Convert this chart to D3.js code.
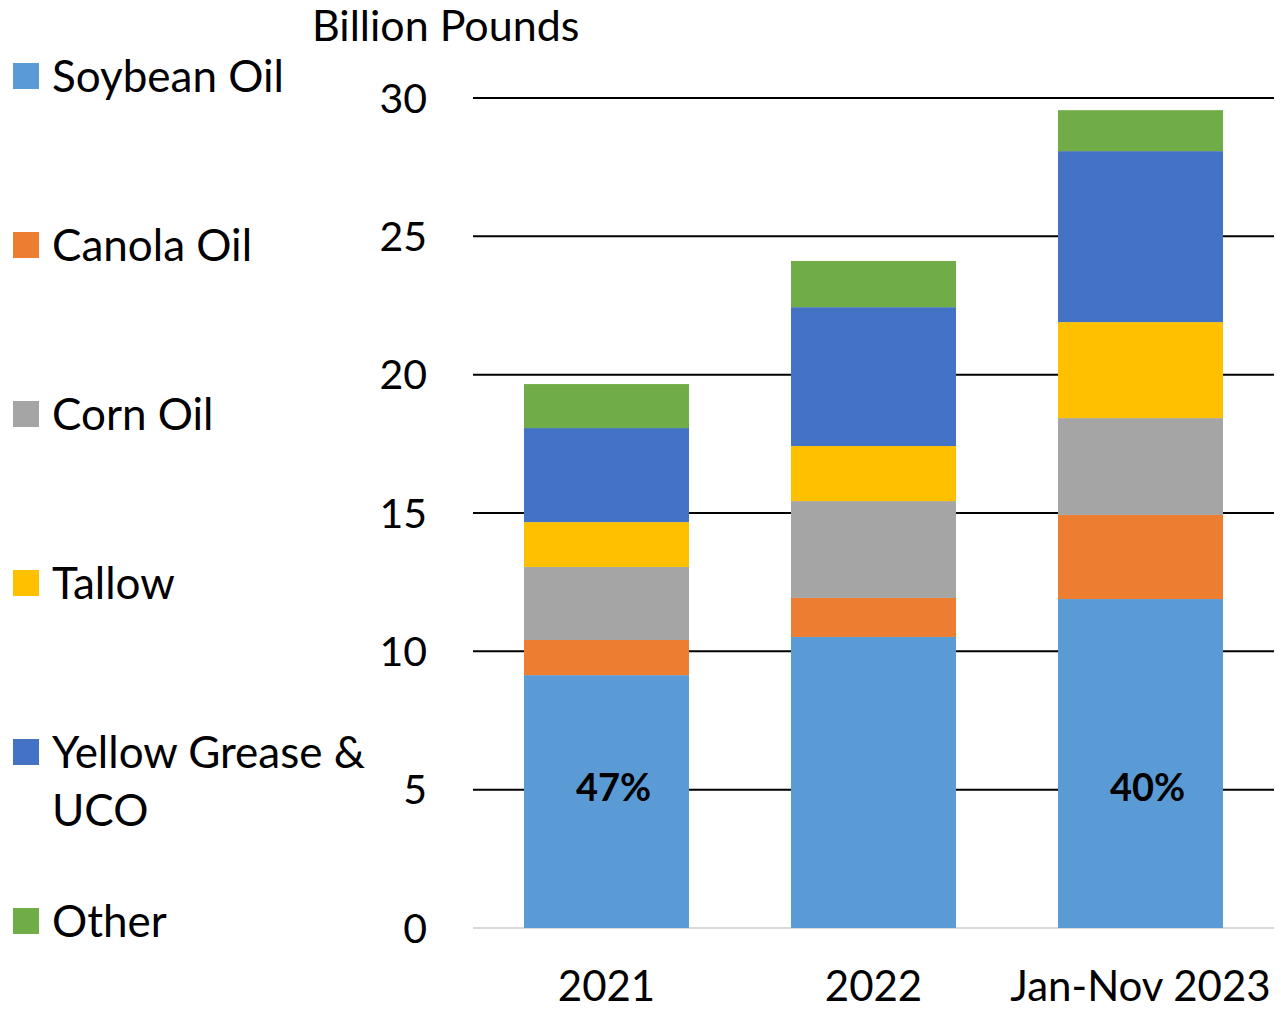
<!DOCTYPE html>
<html>
<head>
<meta charset="utf-8">
<script src="https://cdn.jsdelivr.net/npm/d3@7"></script>
<style>
  body { margin: 0; background: #fff; }
  svg { font-family: Lato, "Open Sans", sans-serif; }
</style>
</head>
<body>
<div id="chart"></div>
<script>
// Data (billion pounds)
const categories = ["2021", "2022", "Jan-Nov 2023"];
const seriesNames = ["Soybean Oil", "Canola Oil", "Corn Oil", "Tallow", "Yellow Grease & UCO", "Other"];
const soybean = [9.14, 10.52, 11.89];
const canola = [1.27, 1.41, 3.04];
const corn = [2.64, 3.50, 3.50];
const tallow = [1.62, 1.99, 3.47];
const yellowGrease = [3.40, 5.02, 6.18];
const other = [1.59, 1.67, 1.48];
const yTicks = [0, 5, 10, 15, 20, 25, 30];
const shareLabels = ["47%", "", "40%"];

const colors = ["#5B9BD5", "#ED7D31", "#A5A5A5", "#FFC000", "#4472C4", "#70AD47"];
const keys = ["soybean", "canola", "corn", "tallow", "yellowGrease", "other"];

const rows = categories.map((c, i) => ({
    cat: c,
    soybean: soybean[i], canola: canola[i], corn: corn[i],
    tallow: tallow[i], yellowGrease: yellowGrease[i], other: other[i]
}));

const W = 1281, H = 1012;
const plot = { left: 473, right: 1274, top: 98, bottom: 928 };

const svg = d3.select("#chart").append("svg")
    .attr("width", W)
    .attr("height", H);

const x = d3.scaleBand()
    .domain(categories)
    .range([plot.left, plot.right])
    .paddingInner(0.382)
    .paddingOuter(0.191);

const y = d3.scaleLinear()
    .domain([0, 30])
    .range([plot.bottom, plot.top]);

// Gridlines
svg.append("g")
    .selectAll("line")
    .data(yTicks)
    .join("line")
    .attr("x1", plot.left)
    .attr("x2", plot.right)
    .attr("y1", d => y(d))
    .attr("y2", d => y(d))
    .attr("stroke", d => d === 0 ? "#d9d9d9" : "#000")
    .attr("stroke-width", 2);

// Y tick labels
svg.append("g")
    .selectAll("text")
    .data(yTicks)
    .join("text")
    .attr("x", 427)
    .attr("y", d => y(d))
    .attr("dy", "0.36em")
    .attr("text-anchor", "end")
    .style("font-size", "41px")
    .text(d => d);

// Axis title
svg.append("text")
    .attr("x", 312)
    .attr("y", 41)
    .style("font-size", "43px")
    .text("Billion Pounds");

// Stacked bars
const stacked = d3.stack().keys(keys)(rows);

svg.append("g")
    .selectAll("g")
    .data(stacked)
    .join("g")
    .attr("fill", (d, i) => colors[i])
    .selectAll("rect")
    .data(d => d)
    .join("rect")
    .attr("x", d => x(d.data.cat))
    .attr("width", x.bandwidth())
    .attr("y", d => y(d[1]))
    .attr("height", d => y(d[0]) - y(d[1]));

// Share labels on soybean segments
svg.append("g")
    .selectAll("text")
    .data(categories)
    .join("text")
    .attr("x", d => x(d) + x.bandwidth() / 2 + 7)
    .attr("y", y(5.1))
    .attr("dy", "0.36em")
    .attr("text-anchor", "middle")
    .style("font-size", "38px")
    .style("font-weight", "bold")
    .text((d, i) => shareLabels[i]);

// X labels
svg.append("g")
    .selectAll("text")
    .data(categories)
    .join("text")
    .attr("x", d => x(d) + x.bandwidth() / 2)
    .attr("y", 1001)
    .attr("text-anchor", "middle")
    .style("font-size", "42px")
    .text(d => d);

// Legend
const legendY = [76, 245, 414, 583, 752, 921];
const legend = svg.append("g");
seriesNames.forEach((name, i) => {
    legend.append("rect")
        .attr("x", 13)
        .attr("y", legendY[i] - 13)
        .attr("width", 26)
        .attr("height", 26)
        .attr("fill", colors[i]);
    const t = legend.append("text")
        .attr("x", 52)
        .attr("y", legendY[i])
        .attr("dy", "0.36em")
        .style("font-size", "44px");
    if (name === "Yellow Grease & UCO") {
        t.append("tspan").attr("x", 52).text("Yellow Grease &");
        t.append("tspan").attr("x", 52).attr("dy", 58).text("UCO");
    } else {
        t.text(name);
    }
});
</script>
</body>
</html>
